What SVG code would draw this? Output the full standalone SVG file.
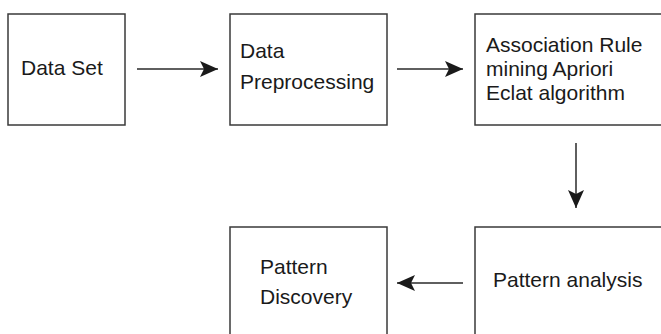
<svg xmlns="http://www.w3.org/2000/svg" width="661" height="334" viewBox="0 0 661 334">
  <style>
    .box { fill: #ffffff; stroke: #3a3a3a; stroke-width: 1.5; }
    .lbl { font-family: "Liberation Sans", Arial, sans-serif; font-size: 21px; fill: #1a1a1a; }
    .edge { stroke: #2a2a2a; stroke-width: 1.5; fill: none; marker-end: url(#arrow); }
  </style>
  <defs>
    <marker id="arrow" markerWidth="18" markerHeight="16" refX="18" refY="8" orient="auto" markerUnits="userSpaceOnUse">
      <path d="M0,0 L18,8 L0,16 L4,8 Z" fill="#1a1a1a"/>
    </marker>
  </defs>
  <rect width="661" height="334" fill="#ffffff"/>

  <g id="data-set">
    <rect class="box" x="8" y="14" width="117" height="111"/>
    <text class="lbl" x="21" y="75">Data Set</text>
  </g>

  <g id="data-preprocessing">
    <rect class="box" x="230" y="14" width="157" height="111"/>
    <text class="lbl" x="240" y="58">Data</text>
    <text class="lbl" x="240" y="89">Preprocessing</text>
  </g>

  <g id="association-rule-mining">
    <rect class="box" x="475" y="14" width="200" height="111"/>
    <text class="lbl" x="486" y="52">Association Rule</text>
    <text class="lbl" x="486" y="76">mining Apriori</text>
    <text class="lbl" x="486" y="100">Eclat algorithm</text>
  </g>

  <g id="pattern-analysis">
    <rect class="box" x="475" y="227" width="200" height="120"/>
    <text class="lbl" x="493" y="287">Pattern analysis</text>
  </g>

  <g id="pattern-discovery">
    <rect class="box" x="230" y="227" width="157" height="120"/>
    <text class="lbl" x="260" y="274">Pattern</text>
    <text class="lbl" x="260" y="304">Discovery</text>
  </g>

  <g id="connectors">
    <line class="edge" x1="137" y1="69" x2="218" y2="69"/>
    <line class="edge" x1="397" y1="69" x2="463" y2="69"/>
    <line class="edge" x1="576" y1="143" x2="576" y2="208"/>
    <line class="edge" x1="463" y1="283" x2="397" y2="283"/>
  </g>
</svg>
